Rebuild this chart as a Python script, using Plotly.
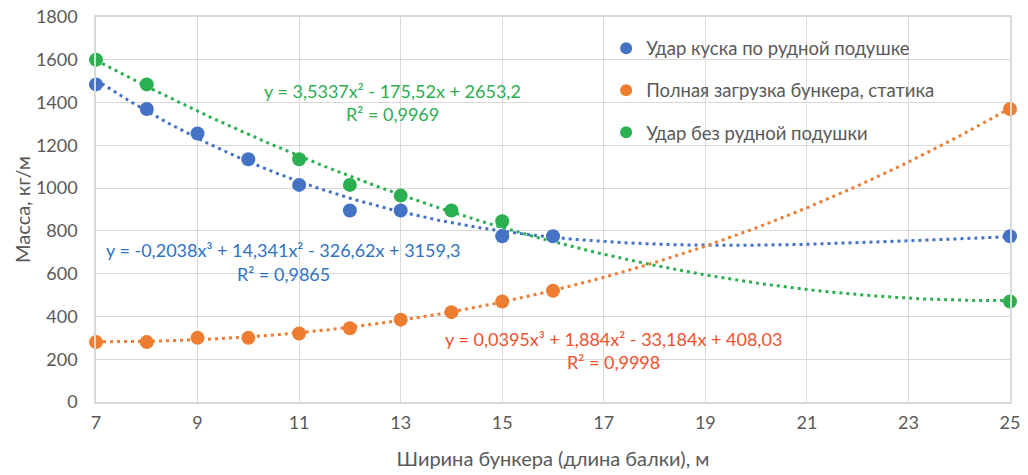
import numpy as np
import plotly.graph_objects as go

# ---- data ----
x_blue = [7, 8, 9, 10, 11, 12, 13, 15, 16, 25]
y_blue = [1485, 1370, 1255, 1135, 1015, 895, 895, 775, 775, 775]

x_orange = [7, 8, 9, 10, 11, 12, 13, 14, 15, 16, 25]
y_orange = [280, 280, 300, 300, 320, 345, 385, 420, 470, 520, 1370]

x_green = [7, 8, 11, 12, 13, 14, 15, 25]
y_green = [1600, 1485, 1135, 1015, 965, 895, 845, 470]

# trendline coefficients as printed on the chart (highest power first)
coef_blue = [-0.2038, 14.341, -326.62, 3159.3]
coef_orange = [0.0395, 1.884, -33.184, 408.03]
coef_green = [3.5337, -175.52, 2653.2]

names = ["Удар куска по рудной подушке",
         "Полная загрузка бункера, статика",
         "Удар без рудной подушки"]

eq_blue = ["y = -0,2038x³ + 14,341x² - 326,62x + 3159,3", "R² = 0,9865"]
eq_orange = ["y = 0,0395x³ + 1,884x² - 33,184x + 408,03", "R² = 0,9998"]
eq_green = ["y = 3,5337x² - 175,52x + 2653,2", "R² = 0,9969"]

x_ticks = [7, 9, 11, 13, 15, 17, 19, 21, 23, 25]

C_BLUE = "#4472C4"
C_ORANGE = "#ED7D31"
C_GREEN = "#2BB04F"
T_BLUE = "#2F73C0"
T_ORANGE = "#F2502E"
T_GREEN = "#2DAE52"
FONT = "Lato"
GRAY = "#595959"

fig = go.Figure()

xs = np.linspace(7, 25, 300)
series = [
    (x_blue, y_blue, coef_blue, C_BLUE, names[0]),
    (x_orange, y_orange, coef_orange, C_ORANGE, names[1]),
    (x_green, y_green, coef_green, C_GREEN, names[2]),
]

# trendlines first (under markers)
for _, _, coef, col, nm in series:
    fig.add_trace(go.Scatter(
        x=xs, y=np.polyval(coef, xs), mode="lines",
        line=dict(color=col, width=3, dash="3px,4px"),
        showlegend=False, hoverinfo="skip", cliponaxis=False))

for i, (xv, yv, _, col, nm) in enumerate(series):
    fig.add_trace(go.Scatter(
        x=xv, y=yv, mode="markers", name=nm, legendgroup=f"g{i}",
        marker=dict(color=col, size=14), cliponaxis=False))

# page-pixel helpers (plot area in the page: x 95.7..1010, y 16.7..401.7)
def px_to_y(py):
    return (401.7 - py) / 385.0 * 1800

def px_to_xp(px):
    return (px - 95.7) / (1010 - 95.7)

def ann(lines, xc, y1, y2, color):
    for txt, yy in ((lines[0], y1), (lines[1], y2)):
        fig.add_annotation(x=px_to_xp(xc), y=px_to_y(yy), xref="paper", yref="y",
                           xanchor="center", yanchor="middle", text=txt,
                           showarrow=False,
                           font=dict(family=FONT, size=18, color=color))

ann(eq_green, 392, 90.5, 114, T_GREEN)
ann(eq_blue, 283, 250, 274, T_BLUE)
ann(eq_orange, 613, 338.5, 361.5, T_ORANGE)

fig.update_layout(
    width=1028, height=475,
    margin=dict(l=95.7, r=18, t=16.7, b=73.3, autoexpand=False),
    paper_bgcolor="white", plot_bgcolor="white",
    font=dict(family=FONT, size=18, color=GRAY),
    legend=dict(x=px_to_xp(606), y=0.967, xanchor="left", yanchor="top",
                bgcolor="rgba(0,0,0,0)", font=dict(size=18.5, color=GRAY),
                tracegroupgap=15, itemsizing="constant"),
    xaxis=dict(range=[7, 25], tickvals=x_ticks, showgrid=True,
               gridcolor="#D9D9D9", gridwidth=1, zeroline=False,
               showline=True, linecolor="#D9D9D9", linewidth=1.5, mirror=True,
               ticks="outside", ticklen=4, tickcolor="rgba(0,0,0,0)",
               tickfont=dict(size=18, color=GRAY), ticklabeloverflow="allow",
               title=dict(text="Ширина бункера (длина балки), м",
                          font=dict(size=20, color=GRAY), standoff=20)),
    yaxis=dict(range=[0, 1800], dtick=200, showgrid=True,
               gridcolor="#D9D9D9", gridwidth=1, zeroline=False,
               showline=True, linecolor="#D9D9D9", linewidth=1.5, mirror=True,
               ticks="outside", ticklen=13, tickcolor="rgba(0,0,0,0)",
               tickfont=dict(size=18, color=GRAY), ticklabeloverflow="allow",
               title=dict(text="Масса, кг/м",
                          font=dict(size=20, color=GRAY), standoff=0)),
)

# remove the default 8px page margin so the figure fills the window exactly
fig.write_html("out.html", config={"displayModeBar": False},
               post_script="document.body.style.margin='0';")
